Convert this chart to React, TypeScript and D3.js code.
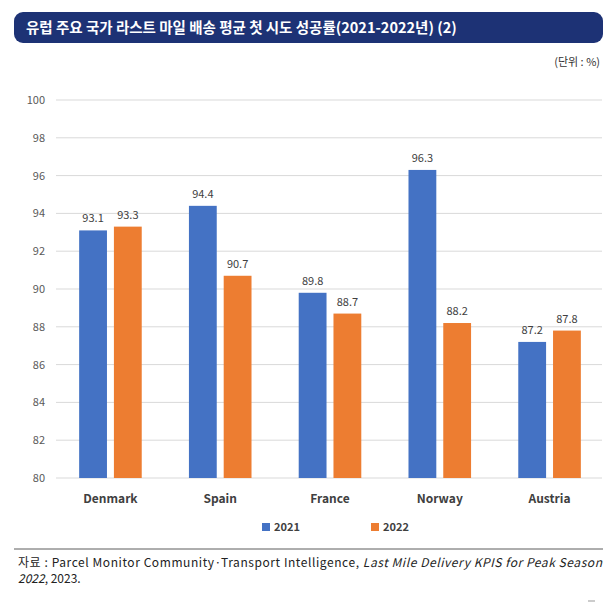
import * as d3 from 'd3';

const categories = ['Denmark', 'Spain', 'France', 'Norway', 'Austria'];
const series = ['2021', '2022'];
const values2021 = [93.1, 94.4, 89.8, 96.3, 87.2];
const values2022 = [93.3, 90.7, 88.7, 88.2, 87.8];
const yTicks = [80, 82, 84, 86, 88, 90, 92, 94, 96, 98, 100];
const colors = ['#4472C4', '#ED7D31'];

export default function App() {
  const W = 615, H = 611;
  const x = d3.scaleBand().domain(categories).range([55, 605]).paddingInner(0.43).paddingOuter(0.22);
  const inner = d3.scaleBand().domain(series).range([0, x.bandwidth()]).paddingInner(0.2);
  const y = d3.scaleLinear().domain([80, 100]).range([478, 100]);
  const font = "'Noto Sans CJK KR', 'Noto Sans', sans-serif";
  const data = [values2021, values2022];
  return (
    <svg width={W} height={H} style={{ position: 'absolute', left: 0, top: 0, fontFamily: font }}>
      <rect width={W} height={H} fill="#fff" />
      <rect x={14} y={12} width={589} height={31} rx={9} fill="#1D3275" />
      <text x={26} y={33} fill="#fff" fontSize={14.5} fontWeight={700}>유럽 주요 국가 라스트 마일 배송 평균 첫 시도 성공률(2021-2022년) (2)</text>
      <text x={600} y={66} textAnchor="end" fontSize={11} fill="#333">(단위 : %)</text>
      {yTicks.map(t => (
        <g key={t}>
          <line x1={56} x2={602} y1={y(t)} y2={y(t)} stroke="#d9d9d9" />
          <text x={45} y={y(t) + 4} textAnchor="end" fontSize={11} fill="#595959">{t}</text>
        </g>
      ))}
      {categories.map((c, i) => (
        <g key={c}>
          {series.map((s, j) => {
            const bx = x(c)! + inner(s)!;
            const v = data[j][i];
            return (
              <g key={s}>
                <rect x={bx} y={y(v)} width={inner.bandwidth()} height={y(80) - y(v)} fill={colors[j]} />
                <text x={bx + inner.bandwidth() / 2} y={y(v) - 8} textAnchor="middle" fontSize={11} fill="#404040">{v.toFixed(1)}</text>
              </g>
            );
          })}
          <text x={x(c)! + x.bandwidth() / 2} y={503} textAnchor="middle" fontSize={12} fontWeight={700} fill="#404040">{c}</text>
        </g>
      ))}
      {series.map((s, j) => (
        <g key={s} transform={`translate(${262 + j * 109},528)`}>
          <rect x={0} y={-5} width={8} height={8} fill={colors[j]} />
          <text x={12} y={3} fontSize={11} fontWeight={700} fill="#404040">{s}</text>
        </g>
      ))}
      <line x1={14} x2={603} y1={549} y2={549} stroke="#333" strokeWidth={0.8} />
      <text x={18} y={567} fontSize={12} fill="#222" textLength={584} lengthAdjust="spacing">
        자료 : Parcel Monitor Community·Transport Intelligence, <tspan fontStyle="italic">Last Mile Delivery KPIS for Peak Season</tspan>
      </text>
      <text x={18} y={583} fontSize={12} fill="#222"><tspan fontStyle="italic">2022</tspan>, 2023.</text>
      <line x1={588} x2={595} y1={601} y2={601} stroke="#999" />
    </svg>
  );
}
